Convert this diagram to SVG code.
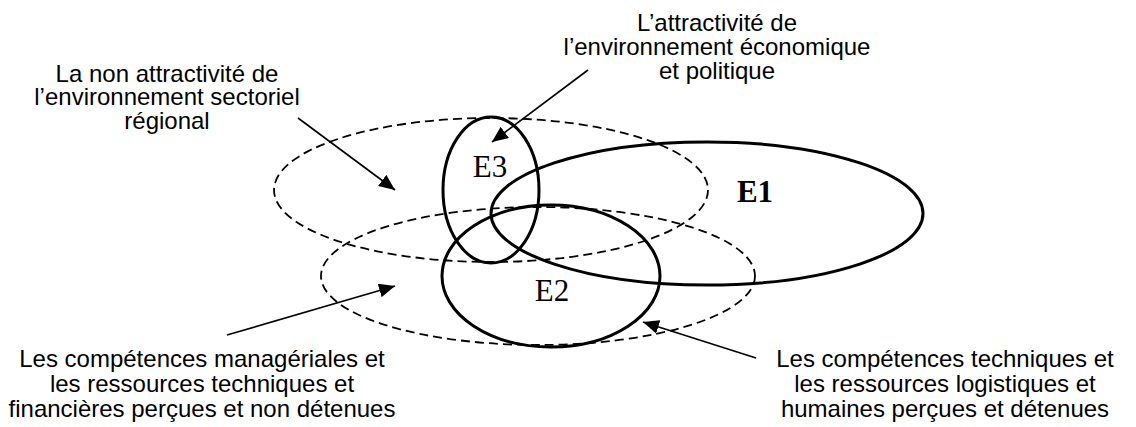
<svg xmlns="http://www.w3.org/2000/svg" width="1136" height="427" viewBox="0 0 1136 427">
<style>
.lbl{font-family:"Liberation Sans",Arial,sans-serif;font-size:24px;fill:#000;text-anchor:middle}
.e{font-family:"Liberation Serif","Times New Roman",serif;font-size:31px;fill:#000;text-anchor:middle}
.solid{fill:none;stroke:#000;stroke-width:3}
.dash{fill:none;stroke:#000;stroke-width:1.8;stroke-dasharray:9 5}
.arr{fill:none;stroke:#000;stroke-width:1.6;marker-end:url(#ah)}
</style>
<defs>
<marker id="ah" markerUnits="userSpaceOnUse" markerWidth="18" markerHeight="14" refX="16" refY="7" orient="auto">
<path d="M0,0 L16,7 L0,14 Z" fill="#000"/>
</marker>
</defs>
<rect width="1136" height="427" fill="#fff"/>
<g id="dashed-top"><ellipse class="dash" cx="491" cy="190" rx="217" ry="72"/></g>
<g id="dashed-bottom"><ellipse class="dash" cx="538" cy="276" rx="217" ry="69"/></g>
<g id="E1"><ellipse class="solid" cx="707" cy="213.5" rx="216" ry="71.5"/><text class="e" x="755" y="202" font-weight="bold">E1</text></g>
<g id="E2"><ellipse class="solid" cx="551" cy="276" rx="109" ry="71"/><text class="e" x="552" y="301">E2</text></g>
<g id="E3"><ellipse class="solid" cx="491" cy="190" rx="48" ry="73"/><text class="e" x="490" y="177">E3</text></g>
<g id="connectors">
<line class="arr" x1="298" y1="118" x2="395" y2="190"/>
<line class="arr" x1="227" y1="335" x2="395" y2="286"/>
<line class="arr" x1="588" y1="70" x2="492" y2="142"/>
<line class="arr" x1="756" y1="358" x2="643" y2="322"/>
</g>
<g id="label-top-left">
<text class="lbl" x="167" y="82">La non attractivité de</text>
<text class="lbl" x="167" y="105">l’environnement sectoriel</text>
<text class="lbl" x="167" y="129">régional</text>
</g>
<g id="label-top">
<text class="lbl" x="717" y="31">L’attractivité de</text>
<text class="lbl" x="717" y="55">l’environnement économique</text>
<text class="lbl" x="717" y="79">et politique</text>
</g>
<g id="label-bottom-left">
<text class="lbl" x="202" y="367">Les compétences managériales et</text>
<text class="lbl" x="202" y="392">les ressources techniques et</text>
<text class="lbl" x="202" y="417">financières perçues et non détenues</text>
</g>
<g id="label-bottom-right">
<text class="lbl" x="945" y="367">Les compétences techniques et</text>
<text class="lbl" x="945" y="392">les ressources logistiques et</text>
<text class="lbl" x="945" y="417">humaines perçues et détenues</text>
</g>
</svg>
